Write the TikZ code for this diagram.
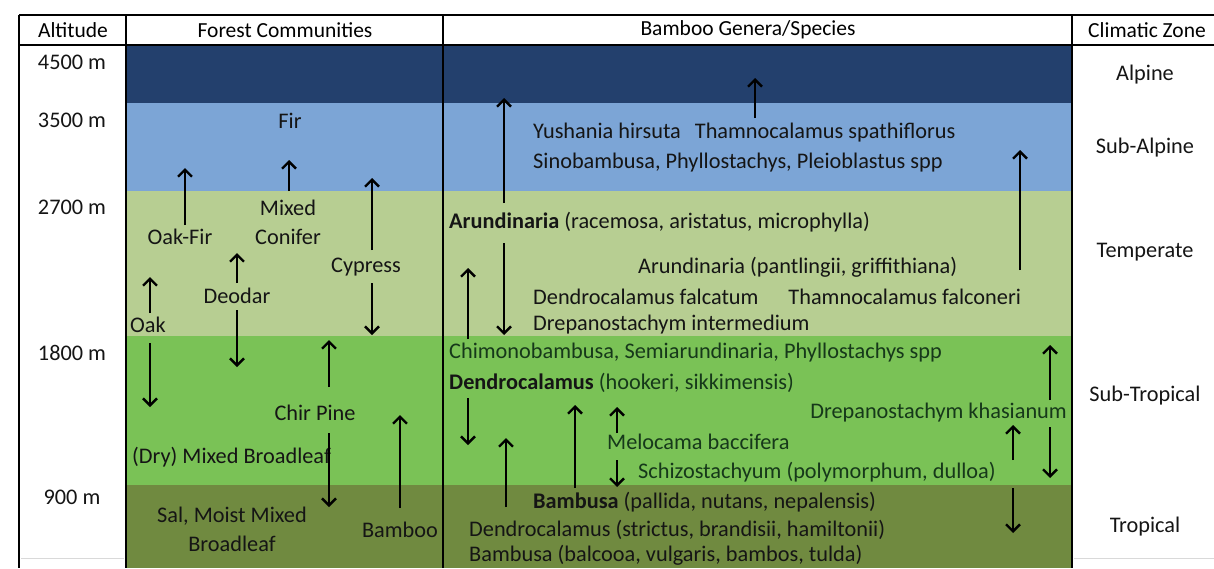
\documentclass[tikz,border=0pt]{standalone}
\usepackage{fontspec}
\setmainfont{Carlito}
\usetikzlibrary{arrows.meta}
\definecolor{alpinec}{HTML}{23406D}
\definecolor{subalpc}{HTML}{7CA5D6}
\definecolor{tempc}{HTML}{B7CE92}
\definecolor{subtropc}{HTML}{7AC256}
\definecolor{tropc}{HTML}{708A40}
\definecolor{txtc}{HTML}{151515}
\definecolor{gtxt}{HTML}{16381A}
\newcommand{\vArrowAt}[4]{%
  \coordinate (#1s) at (#2,#3);
  \coordinate (#1e) at (#2,#4);
  \draw[arr] (#1s) -- (#1e);}
\begin{document}
\begin{tikzpicture}[x=1pt,y=-1pt,
  txt/.style={inner sep=0pt,text=txtc,font=\fontsize{22.3}{29}\selectfont},
  hdr/.style={inner sep=0pt,text=black,font=\fontsize{21.5}{26}\selectfont},
  lft/.style={txt,anchor=west},
  gl/.style={lft,text=gtxt},
  arr/.style={line width=2.6pt,black,-{Straight Barb[length=7pt,width=14pt,line width=2.4pt]}},
  grid/.style={line width=2pt,black}]
\clip (0,0) rectangle (1214,568);
\fill[white] (0,0) rectangle (1214,568);
% bands
\fill[alpinec] (126,46) rectangle (1072,103);
\fill[subalpc] (126,103) rectangle (1072,191);
\fill[tempc] (126,191) rectangle (1072,336);
\fill[subtropc] (126,336) rectangle (1072,485);
\fill[tropc] (126,485) rectangle (1072,568);
% grid
\draw[grid] (19,15) -- (1214,15);
\draw[line width=2.8pt] (19,45) -- (1214,45);
\draw[grid] (19,15) -- (19,568);
\draw[grid] (126,15) -- (126,568);
\draw[grid] (443,15) -- (443,568);
\draw[grid] (1072,15) -- (1072,568);
\draw[gray!30,line width=1pt] (21,558) -- (124,558);
\draw[gray!30,line width=1pt] (1074,558) -- (1214,558);
% headers
\node[hdr] (hAlt) at (73,30) {Altitude};
\node[hdr] (hForest) at (285,30) {Forest Communities};
\node[hdr] (hBamboo) at (748,30) {Bamboo Genera/Species};
\node[hdr] (hClim) at (1147,30) {Climatic Zone};
% altitudes
\node[txt] (a4500) at (72,62) {4500 m};
\node[txt] (a3500) at (72,120) {3500 m};
\node[txt] (a2700) at (72,207) {2700 m};
\node[txt] (a1800) at (72,353) {1800 m};
\node[txt] (a900) at (72,497) {900 m};
% climatic zones
\node[txt] (zAlp) at (1145,75) {Alpine};
\node[txt] (zSub) at (1145,148) {Sub-Alpine};
\node[txt] (zTem) at (1145,252) {Temperate};
\node[txt] (zSt) at (1145,396) {Sub-Tropical};
\node[txt] (zTr) at (1145,527) {Tropical};
% forest communities
\node[txt] (fFir) at (290,121) {Fir};
\node[txt] (fOakFir) at (180,237) {Oak-Fir};
\node[txt,align=center] (fMixed) at (288,222) {Mixed\\Conifer};
\node[txt] (fCypress) at (366,267) {Cypress};
\node[txt] (fDeodar) at (237,296) {Deodar};
\node[txt] (fOak) at (148,325) {Oak};
\node[txt] (fChir) at (315,413) {Chir Pine};
\node[lft] (fDry) at (132,457) {(Dry) Mixed Broadleaf};
\node[txt,align=center] (fSal) at (232,529) {Sal, Moist Mixed\\Broadleaf};
\node[txt] (fBamboo) at (400,530) {Bamboo};
\vArrowAt{aOakFir}{185}{225}{168}
\vArrowAt{aMixed}{289}{191}{160}
\vArrowAt{aCypU}{372}{250}{178}
\vArrowAt{aCypD}{372}{283}{335}
\vArrowAt{aDeoU}{237}{283}{253}
\vArrowAt{aDeoD}{237}{310}{367}
\vArrowAt{aOakU}{150}{313}{277}
\vArrowAt{aOakD}{150}{343}{407}
\vArrowAt{aChirU}{329}{387}{340}
\vArrowAt{aChirD}{329}{433}{507}
\vArrowAt{aBam}{400}{508}{415}
% bamboo genera
\node[lft] (b1) at (533,133) {Yushania hirsuta\hspace{14pt}Thamnocalamus spathiflorus};
\node[lft] (b2) at (533,163) {Sinobambusa, Phyllostachys, Pleioblastus spp};
\node[lft] (b3) at (449,222) {\textbf{Arundinaria} (racemosa, aristatus, microphylla)};
\node[lft] (b4) at (638,267) {Arundinaria (pantlingii, griffithiana)};
\node[lft] (b5) at (533,297) {Dendrocalamus falcatum\hspace{30pt}Thamnocalamus falconeri};
\node[lft] (b6) at (533,325) {Drepanostachym intermedium};
\node[gl] (b7) at (449,353) {Chimonobambusa, Semiarundinaria, Phyllostachys spp};
\node[gl] (b8) at (449,383) {\textbf{\color{txtc}Dendrocalamus} (hookeri, sikkimensis)};
\node[gl,anchor=east] (b9) at (1067,413) {Drepanostachym khasianum};
\node[gl] (b10) at (607,442) {Melocama baccifera};
\node[gl] (b11) at (638,472) {Schizostachyum (polymorphum, dulloa)};
\node[lft] (b12) at (533,502) {\textbf{Bambusa} (pallida, nutans, nepalensis)};
\node[lft] (b13) at (469,530) {Dendrocalamus (strictus, brandisii, hamiltonii)};
\node[lft] (b14) at (469,555) {Bambusa (balcooa, vulgaris, bambos, tulda)};
\vArrowAt{bA1}{504}{203}{98}
\vArrowAt{bA2}{755}{118}{78}
\vArrowAt{bA3}{1020}{270}{150}
\vArrowAt{bA4}{504}{243}{335}
\vArrowAt{bA5}{468}{339}{268}
\vArrowAt{bA6}{468}{398}{445}
\vArrowAt{bA7}{506}{507}{438}
\vArrowAt{bA8}{575}{488}{405}
\vArrowAt{bA9}{617}{433}{407}
\vArrowAt{bA10}{617}{460}{487}
\vArrowAt{bA11}{1050}{400}{345}
\vArrowAt{bA12}{1050}{427}{478}
\vArrowAt{bA13}{1013}{460}{425}
\vArrowAt{bA14}{1013}{488}{533}
\end{tikzpicture}
\end{document}
